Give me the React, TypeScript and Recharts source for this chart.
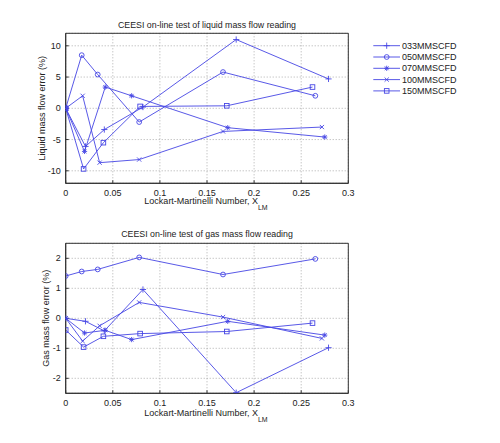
import React from 'react';
import { LineChart, Line, XAxis, YAxis, CartesianGrid, ReferenceArea } from 'recharts';

// ---- data ----
const seriesNames = ['033MMSCFD', '050MMSCFD', '070MMSCFD', '100MMSCFD', '150MMSCFD'];
const markerKinds = ['plus', 'circle', 'star', 'cross', 'square'];

const x033 = [0, 0.021, 0.041, 0.082, 0.181, 0.279];
const x050 = [0, 0.017, 0.034, 0.078, 0.167, 0.265];
const x070 = [0, 0.02, 0.042, 0.07, 0.172, 0.275];
const x100 = [0, 0.018, 0.036, 0.078, 0.167, 0.272];
const x150 = [0, 0.019, 0.04, 0.079, 0.171, 0.262];

const liquid033 = [0, -6.1, -3.4, 0.2, 11.0, 4.7];
const liquid050 = [0, 8.5, 5.4, -2.2, 5.8, 2.0];
const liquid070 = [0, -6.9, 3.4, 2.0, -3.1, -4.6];
const liquid100 = [0, 2.0, -8.7, -8.2, -3.7, -3.0];
const liquid150 = [0, -9.7, -5.5, 0.3, 0.4, 3.4];

const gas033 = [0, -0.1, -0.42, 0.96, -2.48, -0.98];
const gas050 = [1.41, 1.56, 1.63, 2.03, 1.46, 1.98];
const gas070 = [0, -0.49, -0.4, -0.71, -0.1, -0.56];
const gas100 = [0, -0.76, -0.25, 0.53, 0.04, -0.67];
const gas150 = [-0.39, -0.96, -0.6, -0.51, -0.44, -0.16];

const xTicks = [0, 0.05, 0.1, 0.15, 0.2, 0.25, 0.3];
const liquidTicks = [-10, -5, 0, 5, 10];
const gasTicks = [-2, -1, 0, 1, 2];
const liquidDomain = [-12, 12];
const gasDomain = [-2.5, 2.5];

const toPoints = (xs: number[], ys: number[]) => xs.map((x, i) => ({ x, y: ys[i] }));
const xsAll = [x033, x050, x070, x100, x150];
const liquidSeries = [liquid033, liquid050, liquid070, liquid100, liquid150].map((ys, i) => toPoints(xsAll[i], ys));
const gasSeries = [gas033, gas050, gas070, gas100, gas150].map((ys, i) => toPoints(xsAll[i], ys));

// ---- style ----
const LINE = '#4646e4';
const AXIS = '#333';
const FONT = '"Liberation Sans", Arial, Helvetica, sans-serif';

function Marker({ cx, cy, kind, color }: { cx: number; cy: number; kind: string; color: string }) {
  const s = 2.6;
  const common = { stroke: color, strokeWidth: 0.9, fill: 'none' };
  if (kind === 'plus')
    return (
      <g {...common}>
        <line x1={cx - s - 0.5} y1={cy} x2={cx + s + 0.5} y2={cy} />
        <line x1={cx} y1={cy - s - 0.5} x2={cx} y2={cy + s + 0.5} />
      </g>
    );
  if (kind === 'circle') return <circle cx={cx} cy={cy} r={2.4} {...common} />;
  if (kind === 'star')
    return (
      <g {...common}>
        <line x1={cx - s} y1={cy} x2={cx + s} y2={cy} />
        <line x1={cx} y1={cy - s} x2={cx} y2={cy + s} />
        <line x1={cx - 1.9} y1={cy - 1.9} x2={cx + 1.9} y2={cy + 1.9} />
        <line x1={cx - 1.9} y1={cy + 1.9} x2={cx + 1.9} y2={cy - 1.9} />
      </g>
    );
  if (kind === 'cross')
    return (
      <g {...common}>
        <line x1={cx - 2.1} y1={cy - 2.1} x2={cx + 2.1} y2={cy + 2.1} />
        <line x1={cx - 2.1} y1={cy + 2.1} x2={cx + 2.1} y2={cy - 2.1} />
      </g>
    );
  return <rect x={cx - 2.3} y={cy - 2.3} width={4.6} height={4.6} {...common} />;
}

function Panel({
  series,
  domain,
  ticks,
  height,
  margin,
}: {
  series: { x: number; y: number }[][];
  domain: number[];
  ticks: number[];
  height: number;
  margin: { top: number; right: number; bottom: number; left: number };
}) {
  const tickStyle = { fill: '#222', fontSize: 9, fontFamily: FONT };
  return (
    <LineChart width={500} height={height} margin={margin}>
      <CartesianGrid stroke="#9a9a9a" strokeDasharray="1 2" strokeWidth={0.8} />
      <XAxis
        type="number"
        dataKey="x"
        domain={[0, 0.3]}
        ticks={xTicks}
        interval={0}
        allowDataOverflow
        height={20}
        stroke={AXIS}
        tick={tickStyle}
        tickSize={-3}
        tickMargin={9}
      />
      <YAxis
        type="number"
        domain={domain}
        ticks={ticks}
        interval={0}
        allowDataOverflow
        width={30}
        stroke={AXIS}
        tick={tickStyle}
        tickSize={-3}
        tickMargin={8}
      />
      <ReferenceArea
        x1={0}
        x2={0.3}
        y1={domain[0]}
        y2={domain[1]}
        fill="none"
        fillOpacity={0}
        stroke={AXIS}
        strokeWidth={1}
        strokeOpacity={1}
        ifOverflow="visible"
      />
      {series.map((data, i) => (
        <Line
          key={seriesNames[i]}
          name={seriesNames[i]}
          data={data}
          dataKey="y"
          type="linear"
          stroke={LINE}
          strokeWidth={0.9}
          isAnimationActive={false}
          dot={(p: any) => (
            <Marker key={`${i}-${p.index}`} cx={p.cx} cy={p.cy} kind={markerKinds[i]} color={LINE} />
          )}
          activeDot={false}
        />
      ))}
    </LineChart>
  );
}

export default function App() {
  const textStyle = { fontFamily: FONT, fill: '#222' } as const;
  return (
    <div style={{ position: 'absolute', left: 0, top: 0, width: 500, height: 443, background: '#fff' }}>
      <div style={{ position: 'absolute', left: 0, top: 0 }}>
        <Panel
          series={liquidSeries}
          domain={liquidDomain}
          ticks={liquidTicks}
          height={220}
          margin={{ top: 33.3, right: 151.7, bottom: 16.7, left: 35.7 }}
        />
      </div>
      <div style={{ position: 'absolute', left: 0, top: 220 }}>
        <Panel
          series={gasSeries}
          domain={gasDomain}
          ticks={gasTicks}
          height={223}
          margin={{ top: 23.3, right: 151.7, bottom: 29.7, left: 35.7 }}
        />
      </div>
      <svg
        width={500}
        height={443}
        style={{ position: 'absolute', left: 0, top: 0, pointerEvents: 'none', overflow: 'visible' }}
      >
        <text x={207} y={28.3} textAnchor="middle" fontSize={8.8} {...textStyle}>
          CEESI on-line test of liquid mass flow reading
        </text>
        <text x={207} y={237.3} textAnchor="middle" fontSize={8.8} {...textStyle}>
          CEESI on-line test of gas mass flow reading
        </text>
        <text x={206} y={204.3} textAnchor="middle" fontSize={9} {...textStyle}>
          Lockart-Martinelli Number, X
          <tspan fontSize={7} dy={6}>LM</tspan>
        </text>
        <text x={206} y={416} textAnchor="middle" fontSize={9} {...textStyle}>
          Lockart-Martinelli Number, X
          <tspan fontSize={7} dy={6}>LM</tspan>
        </text>
        <text x={44.8} y={108.3} textAnchor="middle" fontSize={9} transform="rotate(-90 44.8 108.3)" {...textStyle}>
          Liquid mass flow error (%)
        </text>
        <text x={49.3} y={318.3} textAnchor="middle" fontSize={9} transform="rotate(-90 49.3 318.3)" {...textStyle}>
          Gas mass flow error (%)
        </text>
        {seriesNames.map((name, i) => {
          const y = 45.7 + i * 11.3;
          return (
            <g key={name}>
              <line x1={373.3} y1={y} x2={400} y2={y} stroke={LINE} strokeWidth={0.9} />
              <Marker cx={386.7} cy={y} kind={markerKinds[i]} color={LINE} />
              <text x={402} y={y} dy="0.35em" fontSize={9} {...textStyle}>
                {name}
              </text>
            </g>
          );
        })}
      </svg>
    </div>
  );
}
